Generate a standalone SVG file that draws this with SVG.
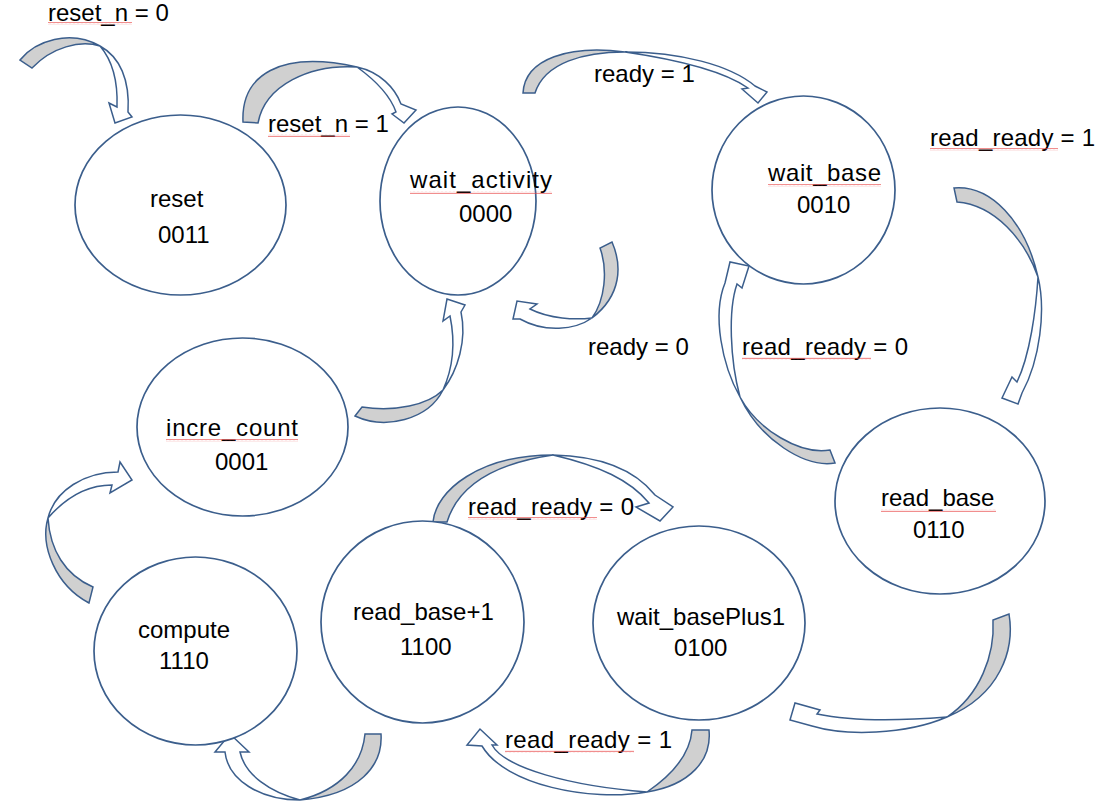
<svg xmlns="http://www.w3.org/2000/svg" width="1099" height="809" viewBox="0 0 1099 809">
<defs>
<pattern id="wavy" width="4" height="3" patternUnits="userSpaceOnUse">
<path d="M0,2.2 L1,0.8 L2,2.2 L3,0.8 L4,2.2" fill="none" stroke="#e84040" stroke-width="0.6"/>
</pattern>
</defs>
<style>
.node{fill:#fff;stroke:#3b5e8c;stroke-width:1.7}
.t{font-family:"Liberation Sans",Arial,sans-serif;font-size:24px;fill:#000}
.back{fill:#d0d0d0;stroke:#3b5e8c;stroke-width:1.5;stroke-linejoin:miter}
.front{fill:#fff;stroke:#3b5e8c;stroke-width:1.5;stroke-linejoin:miter}
.sq{fill:url(#wavy)}
</style>
<rect width="1099" height="809" fill="#fff"/>

<g id="connectors">
<!-- reset_n = 0 -->
<path class="back" d="M20,60 C35,41 70,29 100,46 C80,40 52,47 32,68 Z"/>
<path class="front" d="M100,46 C120,57 130,80 128,112 L132,117 L115,123 L109,103 L117,107 C118,80 112,60 100,46 Z"/>
<!-- reset_n = 1 -->
<path class="back" d="M243,122 C241,75 280,50 357,67 C310,64 265,85 258,123 Z"/>
<path class="front" d="M357,67 C380,72 395,88 401,104 L416,110 L404,123 L392,114 L396,112 C390,95 375,80 357,67 Z"/>
<!-- ready = 1 -->
<path class="back" d="M523,93 C525,58 570,45 625,52 C585,52 545,62 535,93 Z"/>
<path class="front" d="M625,52 C680,52 730,65 755,86 L767,92 L758,103 L742,89 L748,88 C725,72 680,60 625,52 Z"/>
<!-- ready = 0 -->
<path class="back" d="M612,242 C622,265 622,295 592,318 C605,300 608,270 600,248 Z"/>
<path class="front" d="M592,318 C575,330 545,333 520,319 L513,319 L517,301 L537,304 L530,309 C550,319 575,320 592,318 Z"/>
<!-- incre_count -> wait_activity -->
<path class="back" d="M355,416 C385,430 428,420 443,390 C428,405 395,412 362,407 Z"/>
<path class="front" d="M443,390 C458,370 467,340 461,312 L465,305 L447,299 L443,321 L450,316 C456,345 452,370 443,390 Z"/>
<!-- read_ready = 1 (wait_base -> read_base) -->
<path class="back" d="M954,188 C990,185 1025,220 1038,277 C1025,240 995,205 957,202 Z"/>
<path class="front" d="M1038,277 C1046,310 1040,360 1022,393 L1018,404 L1002,398 L1012,377 L1017,382 C1030,355 1036,310 1038,277 Z"/>
<!-- read_ready = 0 (read_base -> wait_base) -->
<path class="back" d="M835,463 C805,468 760,440 740,397 C758,430 800,455 830,450 Z"/>
<path class="front" d="M740,397 C722,365 712,315 725,283 L730,262 L749,266 L742,288 L737,284 C728,310 730,360 740,397 Z"/>
<!-- read_ready = 0 (read_base+1 -> wait_basePlus1) -->
<path class="back" d="M433,522 C436,490 480,455 553,455 C505,462 460,480 447,522 Z"/>
<path class="front" d="M553,455 C600,456 635,470 655,495 L673,507 L660,521 L636,507 L649,503 C630,480 600,466 553,455 Z"/>
<!-- read_base -> wait_basePlus1 -->
<path class="back" d="M1009,614 C1015,650 1000,695 947,717 C980,695 995,655 993,620 Z"/>
<path class="front" d="M947,717 C905,735 845,736 812,726 L790,720 L795,703 L820,710 L817,714 C855,722 910,720 947,717 Z"/>
<!-- read_ready = 1 (wait_basePlus1 -> read_base+1) -->
<path class="back" d="M709,730 C712,760 690,785 647,792 C672,775 690,755 692,730 Z"/>
<path class="front" d="M647,792 C590,802 505,785 482,746 L467,745 L480,729 L497,745 L492,745 C505,768 570,786 647,792 Z"/>
<!-- read_base+1 -> compute -->
<path class="back" d="M381,734 C383,765 360,795 300,800 C340,790 362,765 365,734 Z"/>
<path class="front" d="M300,800 C260,800 228,780 225,752 L215,752 L230,734 L249,752 L240,752 C245,775 270,792 300,800 Z"/>
<!-- compute -> incre_count -->
<path class="back" d="M89,603 C55,585 40,545 48,518 C50,550 65,575 93,587 Z"/>
<path class="front" d="M48,518 C55,490 85,472 118,472 L120,462 L132,480 L110,493 L112,485 C90,485 68,495 48,518 Z"/>

<text class="t" x="48" y="21">reset_n = 0</text>
<rect class="sq" x="48" y="22" width="84" height="3"/>
<text class="t" x="268" y="132">reset_n = 1</text>
<rect class="sq" x="268" y="134" width="82" height="3"/>
<text class="t" x="594" y="82">ready = 1</text>
<text class="t" x="930" y="146" textLength="165" lengthAdjust="spacing">read_ready = 1</text>
<rect class="sq" x="930" y="148" width="128" height="3"/>
<text class="t" x="588" y="355">ready = 0</text>
<text class="t" x="742" y="355" textLength="166" lengthAdjust="spacing">read_ready = 0</text>
<rect class="sq" x="742" y="357" width="129" height="3"/>
<text class="t" x="468" y="515" textLength="166" lengthAdjust="spacing">read_ready = 0</text>
<rect class="sq" x="468" y="517" width="129" height="3"/>
<text class="t" x="505" y="748" textLength="167" lengthAdjust="spacing">read_ready = 1</text>
<rect class="sq" x="505" y="750" width="129" height="3"/>
</g>

<g id="node-reset">
<ellipse class="node" cx="180.5" cy="205" rx="105.5" ry="90"/>
<text class="t" x="150" y="207">reset</text>
<text class="t" x="158" y="243">0011</text>
</g>
<g id="node-wait-activity">
<ellipse class="node" cx="458" cy="201" rx="78" ry="94"/>
<text class="t" x="410" y="188" textLength="142" lengthAdjust="spacing">wait_activity</text>
<rect class="sq" x="410" y="191" width="142" height="3"/>
<text class="t" x="459" y="222">0000</text>
</g>
<g id="node-wait-base">
<ellipse class="node" cx="803.5" cy="190" rx="91.5" ry="94"/>
<text class="t" x="768" y="181" textLength="113" lengthAdjust="spacing">wait_base</text>
<rect class="sq" x="768" y="184" width="113" height="3"/>
<text class="t" x="797" y="213">0010</text>
</g>
<g id="node-incre-count">
<ellipse class="node" cx="242.5" cy="427" rx="105.5" ry="89"/>
<text class="t" x="166" y="436" textLength="132" lengthAdjust="spacing">incre_count</text>
<rect class="sq" x="166" y="439" width="132" height="3"/>
<text class="t" x="215" y="470">0001</text>
</g>
<g id="node-read-base">
<ellipse class="node" cx="940" cy="501" rx="105" ry="93"/>
<text class="t" x="881" y="506">read_base</text>
<rect class="sq" x="881" y="509" width="115" height="3"/>
<text class="t" x="913" y="538">0110</text>
</g>
<g id="node-compute">
<ellipse class="node" cx="195.5" cy="651" rx="101.5" ry="94"/>
<text class="t" x="138" y="638">compute</text>
<text class="t" x="159" y="669">1110</text>
</g>
<g id="node-read-base1">
<ellipse class="node" cx="422.5" cy="622" rx="101.5" ry="101"/>
<text class="t" x="353" y="620">read_base+1</text>
<text class="t" x="400" y="655">1100</text>
</g>
<g id="node-wait-baseplus1">
<ellipse class="node" cx="699" cy="623" rx="106" ry="97"/>
<text class="t" x="617" y="625">wait_basePlus1</text>
<text class="t" x="674" y="656">0100</text>
</g>
</svg>
